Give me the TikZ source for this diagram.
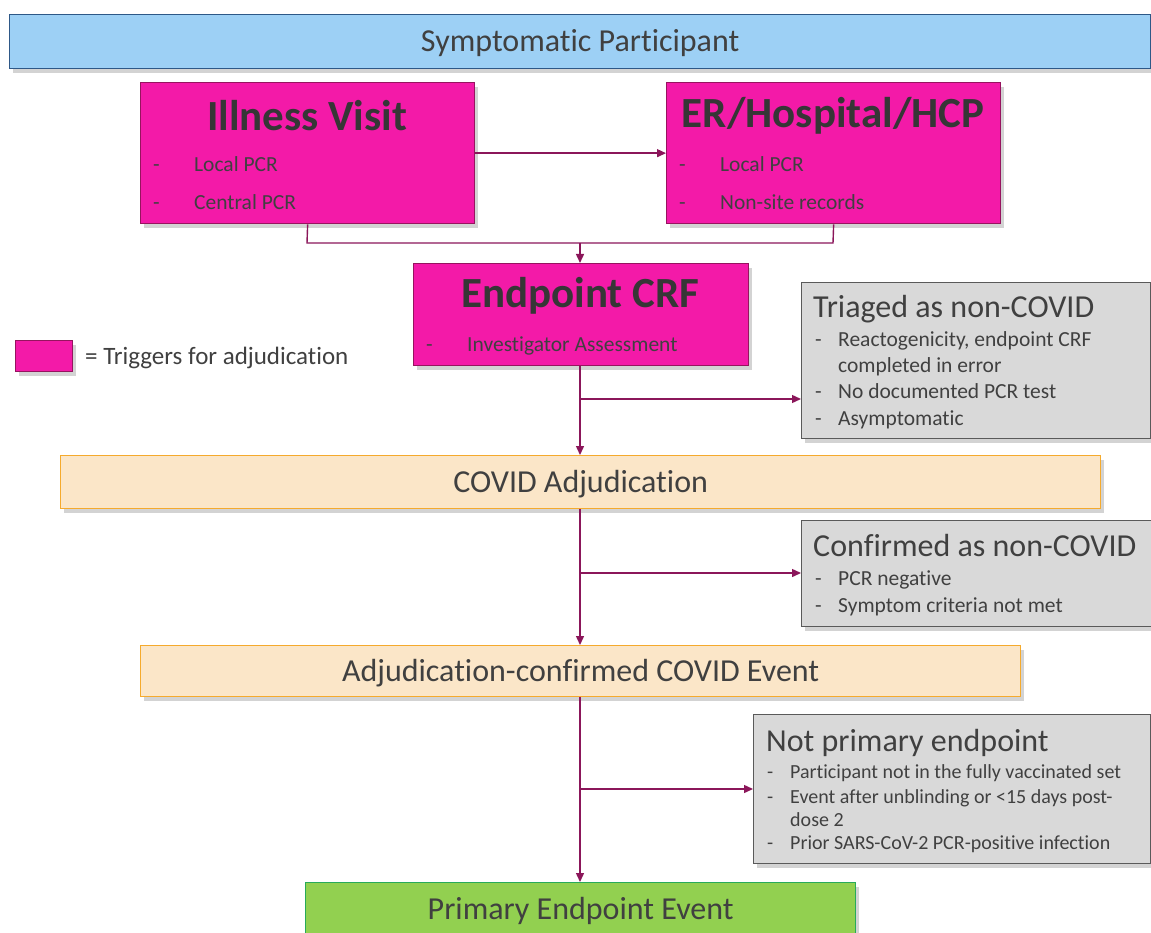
\documentclass[tikz,border=0pt]{standalone}
\usepackage{fontspec}
\setmainfont{Carlito}[Ligatures=NoCommon]
\usetikzlibrary{arrows.meta,shadows}

\definecolor{inkgrey}{RGB}{64,64,64}
\definecolor{skyfill}{RGB}{157,208,245}
\definecolor{skyline}{RGB}{46,88,135}
\definecolor{trigfill}{RGB}{243,26,168}
\definecolor{trigline}{RGB}{150,20,95}
\definecolor{peachfill}{RGB}{251,230,200}
\definecolor{peachline}{RGB}{245,170,45}
\definecolor{exitfill}{RGB}{217,217,217}
\definecolor{exitline}{RGB}{90,90,90}
\definecolor{endfill}{RGB}{146,208,80}
\definecolor{endline}{RGB}{40,170,90}
\definecolor{flowline}{RGB}{139,22,90}

\tikzset{
  pbox/.style={draw, line width=1.3pt, inner sep=0pt, anchor=north west,
    drop shadow={opacity=0.35, shadow xshift=3pt, shadow yshift=-4pt}},
  bigline/.style={text=inkgrey, text height=20.5pt, text depth=0pt,
    font=\fontsize{32}{38}\selectfont},
  stage/.style={pbox, fill=skyfill, draw=skyline, bigline},
  trigger/.style={pbox, fill=trigfill, draw=trigline},
  review/.style={pbox, fill=peachfill, draw=peachline, bigline},
  exitbox/.style={pbox, fill=exitfill, draw=exitline},
  endbox/.style={pbox, fill=endfill, draw=endline, bigline},
  headtxt/.style={text=inkgrey!85!black, inner sep=0pt,
    font=\fontsize{43}{50}\selectfont\bfseries},
  exittxt/.style={bigline, inner sep=0pt, anchor=west},
  itemtxt/.style={text=inkgrey, inner sep=0pt, anchor=west,
    text height=14pt, text depth=0pt, font=\fontsize{21.5}{26}\selectfont},
  smalltxt/.style={itemtxt, text height=13pt, font=\fontsize{20}{24}\selectfont},
  link/.style={draw=flowline, line width=1.4pt},
  flow/.style={link, -{Triangle[length=9pt,width=8pt]}}
}

\begin{document}
\begin{tikzpicture}[x=1pt,y=-1pt]
\useasboundingbox (0,0) rectangle (1151,933);

% top bar
\node[stage, minimum width=1141pt, minimum height=54pt] (sym) at (9,14) {Symptomatic Participant};

% triggers
\node[trigger, minimum width=334pt, minimum height=141pt] (ill) at (140,82) {};
\node[headtxt] (illT) at (307,116) {Illness Visit};
\node[itemtxt] (illD1) at (153,165) {-};
\node[itemtxt] (illA) at (194,165) {Local PCR};
\node[itemtxt] (illD2) at (153,203) {-};
\node[itemtxt] (illB) at (194,203) {Central PCR};

\node[trigger, minimum width=334pt, minimum height=141pt] (er) at (666,82) {};
\node[headtxt] (erT) at (833,116) {ER/Hospital/HCP};
\node[itemtxt] (erD1) at (679,165) {-};
\node[itemtxt] (erA) at (720,165) {Local PCR};
\node[itemtxt] (erD2) at (679,203) {-};
\node[itemtxt] (erB) at (720,203) {Non-site records};

\node[trigger, minimum width=335pt, minimum height=102pt] (crf) at (413,263) {};
\node[headtxt] (crfT) at (580,296) {Endpoint CRF};
\node[itemtxt] (crfD1) at (426,344) {-};
\node[itemtxt] (crfA) at (467,344) {Investigator Assessment};

% legend
\node[trigger, minimum width=57pt, minimum height=31pt] (key) at (15,340) {};
\node[itemtxt, text height=16pt, font=\fontsize{25}{30}\selectfont] (keyT) at (85,356) {= Triggers for adjudication};

% exits
\node[exitbox, minimum width=349pt, minimum height=156pt] (tri) at (801,282) {};
\node[exittxt] (triT) at (813,307) {Triaged as non-COVID};
\node[itemtxt] (triD1) at (815,339) {-};
\node[itemtxt] (triA) at (838,339) {Reactogenicity, endpoint CRF};
\node[itemtxt] (triA2) at (838,365) {completed in error};
\node[itemtxt] (triD2) at (815,391) {-};
\node[itemtxt] (triB) at (838,391) {No documented PCR test};
\node[itemtxt] (triD3) at (815,418) {-};
\node[itemtxt] (triC) at (838,418) {Asymptomatic};

\node[exitbox, minimum width=355pt, minimum height=106pt] (conf) at (801,520) {};
\node[exittxt] (confT) at (813,546) {Confirmed as non-COVID};
\node[itemtxt] (confD1) at (815,578) {-};
\node[itemtxt] (confA) at (838,578) {PCR negative};
\node[itemtxt] (confD2) at (815,605) {-};
\node[itemtxt] (confB) at (838,605) {Symptom criteria not met};

\node[exitbox, minimum width=397pt, minimum height=149pt] (notp) at (753,714) {};
\node[exittxt] (notpT) at (766,741) {Not primary endpoint};
\node[smalltxt] (notpD1) at (767,772) {-};
\node[smalltxt] (notpA) at (790,772) {Participant not in the fully vaccinated set};
\node[smalltxt] (notpD2) at (767,797) {-};
\node[smalltxt] (notpB) at (790,797) {Event after unblinding or <15 days post-};
\node[smalltxt] (notpB2) at (790,820) {dose 2};
\node[smalltxt] (notpD3) at (767,843) {-};
\node[smalltxt] (notpC) at (790,843) {Prior SARS-CoV-2 PCR-positive infection};

% main line
\node[review, minimum width=1040pt, minimum height=53pt] (adj) at (60,455) {COVID Adjudication};
\node[review, minimum width=880pt, minimum height=51pt] (ace) at (140,645) {Adjudication-confirmed COVID Event};
\node[endbox, minimum width=550pt, minimum height=54pt] (pee) at (305,882) {Primary Endpoint Event};

% connectors
\coordinate (j1) at (307,243);
\coordinate (j2) at (833,243);
\coordinate (jm) at (580,243);
\coordinate (b1) at (580,399);
\coordinate (b2) at (580,573);
\coordinate (b3) at (580,789);

\draw[flow] (ill.east) -- (er.west);
\draw[link] (ill.south) -- (j1) -- (j2) -- (er.south);
\draw[flow] (jm) -- (crf.north -| jm);
\draw[flow] (crf.south -| jm) -- (adj.north -| jm);
\draw[flow] (b1) -- (tri.west |- b1);
\draw[flow] (adj.south -| jm) -- (ace.north -| jm);
\draw[flow] (b2) -- (conf.west |- b2);
\draw[flow] (ace.south -| jm) -- (pee.north -| jm);
\draw[flow] (b3) -- (notp.west |- b3);
\end{tikzpicture}
\end{document}
